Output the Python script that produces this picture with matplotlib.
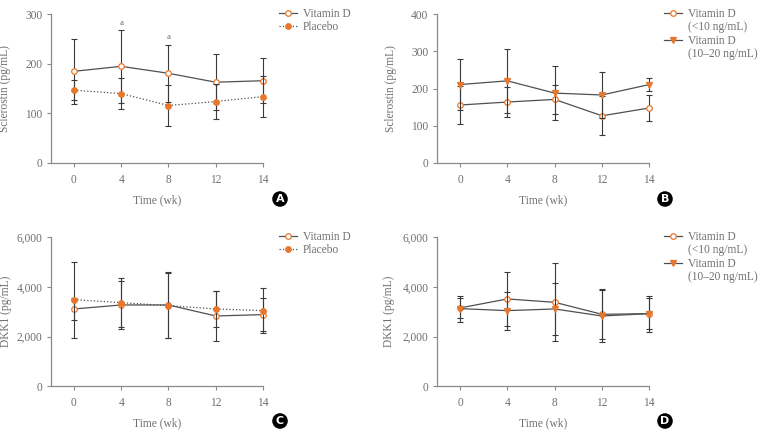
import numpy as np
import matplotlib
matplotlib.use("Agg")
import matplotlib.pyplot as plt
from matplotlib.lines import Line2D

plt.rcParams['font.family'] = ['Liberation Serif', 'DejaVu Serif']

# ------------------------------------------
# data
# ------------------------------------------
weeks = ['0', '4', '8', '12', '14']

# A: sclerostin, vitamin D vs placebo
scl_vitd = [185, 195, 181, 163, 166]
scl_vitd_sd = [66, 73, 58, 56, 45]
scl_plac = [147, 140, 116, 124, 134]
scl_plac_sd = [20, 31, 42, 36, 42]
sig_marks = ['', 'a', 'a', '', '']

# B: sclerostin, by baseline vitamin D
scl_low = [156, 164, 171, 127, 148]
scl_low_sd = [52, 40, 39, 53, 35]
scl_mid = [211, 221, 188, 183, 211]
scl_mid_sd = [68, 87, 72, 61, 17]

# C: DKK1, vitamin D vs placebo
dkk_vitd = [3114, 3275, 3275, 2832, 2886]
dkk_vitd_sd = [445, 975, 1340, 1006, 658]
dkk_plac = [3490, 3369, 3248, 3114, 3047]
dkk_plac_sd = [1530, 975, 1320, 725, 900]

# D: DKK1, by baseline vitamin D
dkk_low = [3155, 3517, 3383, 2899, 2926]
dkk_low_sd = [390, 1100, 1570, 1000, 630]
dkk_mid = [3128, 3047, 3114, 2832, 2926]
dkk_mid_sd = [520, 770, 1030, 1050, 720]

leg_ab = ['Vitamin D', 'Placebo']
leg_cd = ['Vitamin D', '(<10 ng/mL)', 'Vitamin D', '(10\u201320 ng/mL)']

ORANGE = '#E8772E'
LINE = '#505050'
ERR = '#3a3a3a'
TXT = '#707070'
SPINE = '#8a8a8a'

fig = plt.figure(figsize=(7.58, 4.30), dpi=100)

W, H = 758.0, 430.0


def make_ax(x0, x1, ytop, ybot):
    return fig.add_axes([x0 / W, 1 - ybot / H, (x1 - x0) / W, (ybot - ytop) / H])


def style(ax, ymax, step, ylabels, ylab, labx):
    x = np.arange(len(weeks))
    ax.set_xlim(-0.48, x[-1])
    ax.set_ylim(0, ymax)
    ax.set_xticks(x)
    ax.set_xticklabels(weeks)
    ax.set_yticks(np.arange(0, ymax + 1, step))
    ax.set_yticklabels(ylabels)
    for s in ['top', 'right']:
        ax.spines[s].set_visible(False)
    for s in ['left', 'bottom']:
        ax.spines[s].set_color(SPINE)
        ax.spines[s].set_linewidth(0.9)
    ax.tick_params(axis='both', direction='out', length=3, width=0.8,
                   color=SPINE, labelcolor=TXT, labelsize=8.3)
    ax.tick_params(axis='x', pad=5)
    ax.set_xlabel('Time (wk)', color=TXT, fontsize=8.3, labelpad=6)
    ax.set_ylabel(ylab, color=TXT, fontsize=8.3)
    ax.yaxis.set_label_coords(labx, 0.5)


def series(ax, y, err, marker, face, ls, z):
    x = np.arange(len(weeks))
    ax.errorbar(x, y, yerr=err, fmt='none', ecolor=ERR, elinewidth=0.8,
                capsize=2, capthick=0.8, zorder=z, clip_on=False)
    ax.plot(x, y, linestyle=ls, color=LINE, lw=0.9, zorder=z + 1, clip_on=False)
    ax.plot(x, y, linestyle='none', marker=marker, ms=4, mfc=face, mec=ORANGE,
            mew=0.9, zorder=z + 2, clip_on=False)


def badge(xc, yc, letter):
    fig.text(xc / W, 1 - yc / H, letter, ha='center', va='center', color='white',
             fontsize=8, fontweight='bold', family='DejaVu Sans',
             bbox=dict(boxstyle='circle,pad=0.25', fc='black', ec='none'))


def legend(ax, labels, markers, faces, styles, x0, y0):
    handles = []
    for m, fc, st in zip(markers, faces, styles):
        if m is None:
            handles.append(Line2D([0], [0], color='none', lw=0))
        else:
            handles.append(Line2D([0], [0], color=LINE, lw=0.9, ls=st, marker=m, ms=4,
                                  mfc=fc, mec=ORANGE, mew=0.9))
    ax.legend(handles, labels, loc='upper left', bbox_to_anchor=(x0 / W, 1 - y0 / H),
              bbox_transform=fig.transFigure, frameon=False, fontsize=8.3,
              handlelength=1.6, handletextpad=0.45, labelspacing=0.12,
              borderpad=0, borderaxespad=0, labelcolor=TXT)


# ------------------------------------------
# A
# ------------------------------------------
axA = make_ax(51.3, 263, 14.3, 163)
style(axA, 300, 100, ['0', '100', '200', '300'], 'Sclerostin (pg/mL)', -0.19)
series(axA, scl_vitd, scl_vitd_sd, 'o', 'white', '-', 3)
series(axA, scl_plac, scl_plac_sd, 'o', ORANGE, ':', 6)
for i, s in enumerate(sig_marks):
    if s:
        top = scl_vitd[i] + scl_vitd_sd[i]
        axA.text(i, top + 7, s, ha='center', va='bottom', color=TXT, fontsize=6.5)
legend(axA, leg_ab, ['o', 'o'], ['white', ORANGE], ['-', ':'], 279, 8)
badge(280, 199, 'A')

# ------------------------------------------
# B
# ------------------------------------------
axB = make_ax(437.3, 649.3, 14.3, 163)
style(axB, 400, 100, ['0', '100', '200', '300', '400'], 'Sclerostin (pg/mL)', -0.19)
series(axB, scl_low, scl_low_sd, 'o', 'white', '-', 3)
series(axB, scl_mid, scl_mid_sd, 'v', ORANGE, '-', 6)
legend(axB, leg_cd, ['o', None, 'v', None], ['white', None, ORANGE, None],
       ['-', None, '-', None], 664, 8)
badge(665, 199, 'B')

# ------------------------------------------
# C
# ------------------------------------------
axC = make_ax(51.3, 263, 237.3, 386.3)
style(axC, 6000, 2000, ['0', '2,000', '4,000', '6,000'], 'DKK1 (pg/mL)', -0.185)
series(axC, dkk_vitd, dkk_vitd_sd, 'o', 'white', '-', 3)
series(axC, dkk_plac, dkk_plac_sd, 'o', ORANGE, ':', 6)
legend(axC, leg_ab, ['o', 'o'], ['white', ORANGE], ['-', ':'], 279, 231)
badge(280, 421, 'C')

# ------------------------------------------
# D
# ------------------------------------------
axD = make_ax(437.3, 649.3, 237.3, 386.3)
style(axD, 6000, 2000, ['0', '2,000', '4,000', '6,000'], 'DKK1 (pg/mL)', -0.2)
series(axD, dkk_low, dkk_low_sd, 'o', 'white', '-', 3)
series(axD, dkk_mid, dkk_mid_sd, 'v', ORANGE, '-', 6)
legend(axD, leg_cd, ['o', None, 'v', None], ['white', None, ORANGE, None],
       ['-', None, '-', None], 664, 231)
badge(665, 421, 'D')

plt.savefig('out.png', dpi=100)
